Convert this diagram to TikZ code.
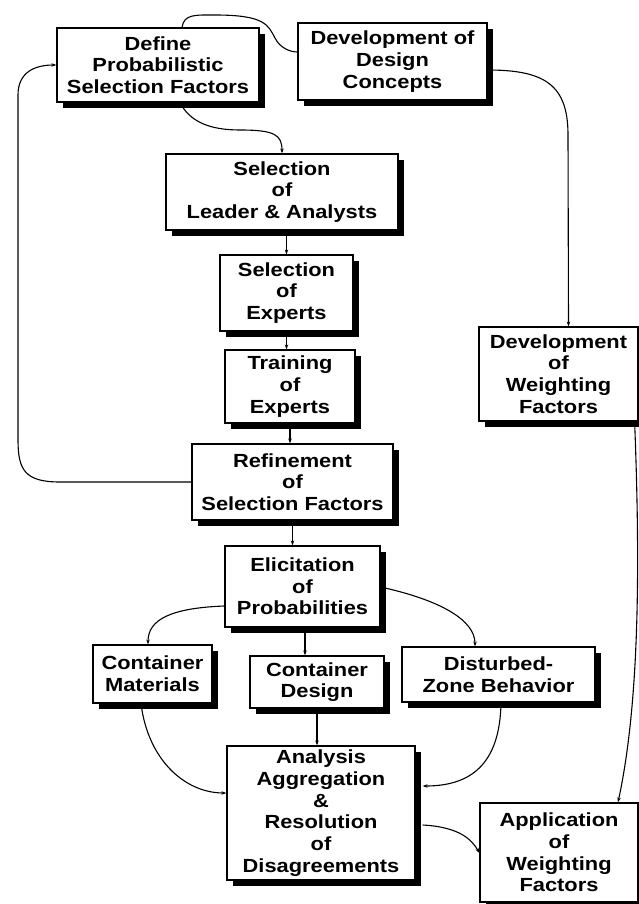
\documentclass[tikz,border=0pt]{standalone}
\usepackage{fontspec}
\newfontfamily\bx[FakeStretch=1.15]{Liberation Sans Bold}
\usetikzlibrary{shadows,calc,arrows.meta}
\newcommand\lbl{\bx\fontsize{19pt}{21.7pt}\selectfont}
\tikzset{
 box/.style={draw, fill=white, line width=1.2pt, align=center, inner sep=0pt, font=\lbl,
   drop shadow={shadow xshift=6pt, shadow yshift=-6pt, opacity=1, fill=black}},
 link/.style={line width=1.1pt},
 arr/.style={link, -{Stealth[length=5pt,width=3.5pt]}}
}
\begin{document}
\begin{tikzpicture}[x=1pt,y=-1pt]
\fill[white] (0,0) rectangle (639,904);
\useasboundingbox (0,0) rectangle (639,904);
\node[box, minimum width=202pt, minimum height=74pt] (def) at (158,65) {Define\\Probabilistic\\Selection Factors};
\node[box, minimum width=189pt, minimum height=77pt] (ddc) at (392.5,61.5) {Development of\\Design\\Concepts};
\node[box, minimum width=232pt, minimum height=76pt] (lead) at (282,192) {Selection\\of\\Leader \& Analysts};
\node[box, minimum width=133pt, minimum height=76pt] (sexp) at (286.5,293) {Selection\\of\\Experts};
\node[box, minimum width=130pt, minimum height=73pt] (texp) at (290,386.5) {Training\\of\\Experts};
\node[box, minimum width=201pt, minimum height=76pt] (ref) at (292.5,482) {Refinement\\of\\Selection Factors};
\node[box, minimum width=155pt, minimum height=81pt] (eli) at (302.5,586.5) {Elicitation\\of\\Probabilities};
\node[box, minimum width=119pt, minimum height=58pt] (cm) at (152.5,674) {Container\\Materials};
\node[box, minimum width=134pt, minimum height=52pt] (cd) at (317,682) {Container\\Design};
\node[box, minimum width=193pt, minimum height=55pt] (dz) at (498.5,674.5) {Disturbed-\\Zone Behavior};
\node[box, minimum width=188pt, minimum height=134pt] (ana) at (321,813) {Analysis\\Aggregation\\\&\\Resolution\\of\\Disagreements};
\node[box, minimum width=159pt, minimum height=94pt] (dwf) at (558.5,374) {Development\\of\\Weighting\\Factors};
\node[box, minimum width=158pt, minimum height=99pt] (awf) at (559,852.5) {Application\\of\\Weighting\\Factors};

\draw[link] ($(def.north)+(24,0)$) .. controls (184,14) and (195,15) .. (215,15) .. controls (265,15) and (268,25) .. (275,38) .. controls (280,48) and (290,52) .. ($(ddc.west)+(0,-9.5)$);
\draw[arr] ($(def.south)+(22,0)$) .. controls (190,122) and (210,130) .. (240,130) .. controls (275,130) and (282,135) .. (lead.north);
\draw[arr] ($(ddc.east)+(0,8.5)$) .. controls (545,70) and (568,85) .. (568,135) -- ($(dwf.north)+(10,0)$);
\draw[arr] (ref.west) -- (60,482) .. controls (25,482) and (18,470) .. (18,440) -- (18,95) .. controls (18,72) and (35,65) .. (def.west);
\draw[arr] (sexp.north |- lead.south) -- (sexp.north);
\draw[arr] (sexp.south) -- (sexp.south |- texp.north);
\draw[arr] (texp.south) -- (texp.south |- ref.north);
\draw[arr] (ref.south) -- (ref.south |- eli.north);
\draw[arr] ($(eli.west)+(0,19.5)$) .. controls (170,608) and (148,620) .. ($(cm.north)+(-4.5,0)$);
\draw[arr] ($(eli.east)+(0,0.5)$) .. controls (440,600) and (475,620) .. ($(dz.north)+(-23.5,0)$);
\coordinate (e1) at ($(eli.south)+(2.5,0)$);
\draw[arr] (e1) -- (e1 |- cd.north);
\draw[arr] (cd.south) -- (cd.south |- ana.north);
\draw[arr] ($(cm.south)+(-11.5,0)$) .. controls (148,760) and (185,793) .. ($(ana.west)+(0,-20)$);
\draw[arr] ($(dz.south)+(2.5,0)$) .. controls (500,765) and (470,786) .. ($(ana.east)+(7,-27)$);
\draw[arr] ($(ana.east)+(7,12)$) .. controls (460,827) and (472,840) .. ($(awf.west)+(0,0.5)$);
\draw[arr] ($(dwf.south east)+(-4,0)$) .. controls (640,560) and (640,700) .. ($(awf.north)+(59,0)$);
\end{tikzpicture}
\end{document}
